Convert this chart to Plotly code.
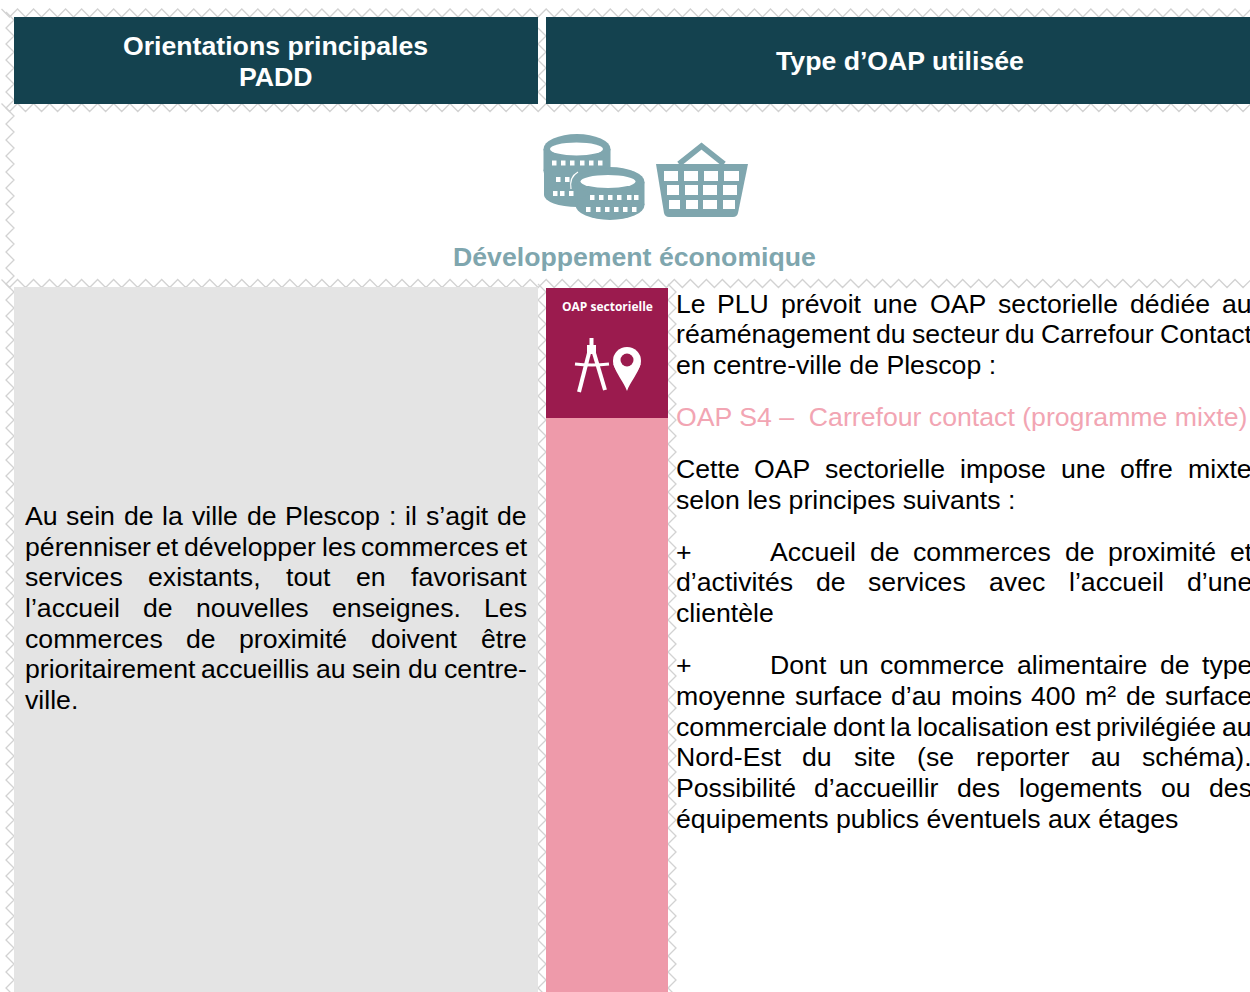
import unicodedata
import plotly.graph_objects as go

W, H = 1250, 992
HEADER_LEFT = ["Orientations principales", "PADD"]
HEADER_RIGHT = "Type d’OAP utilisée"
THEME_TITLE = "Développement économique"
BADGE_LABEL = "OAP sectorielle"

LEFT_LINES = [
    "Au sein de la ville de Plescop : il s’agit de",
    "pérenniser et développer les commerces et",
    "services existants, tout en favorisant",
    "l’accueil de nouvelles enseignes. Les",
    "commerces de proximité doivent être",
    "prioritairement accueillis au sein du centre-",
    "ville.",
]
INTRO_LINES = [
    "Le PLU prévoit une OAP sectorielle dédiée au",
    "réaménagement du secteur du Carrefour Contact",
    "en centre-ville de Plescop :",
]
PINK_LINE = "OAP S4 –  Carrefour contact (programme mixte)"
MIX_LINES = [
    "Cette OAP sectorielle impose une offre mixte",
    "selon les principes suivants :",
]
BULLET1_LINES = [
    "+\tAccueil de commerces de proximité et",
    "d’activités de services avec l’accueil d’une",
    "clientèle",
]
BULLET2_LINES = [
    "+\tDont un commerce alimentaire de type",
    "moyenne surface d’au moins 400 m² de surface",
    "commerciale dont la localisation est privilégiée au",
    "Nord-Est du site (se reporter au schéma).",
    "Possibilité d’accueillir des logements ou des",
    "équipements publics éventuels aux étages",
]

NAVY, GREY, MAROON, PINK = "#14424f", "#e4e4e4", "#9b1b4e", "#ee9aaa"
TEAL, ZIG, PINKTXT = "#7fa6ae", "#d2d2d2", "#f2a5b3"
FS = 26.67

AFM = dict(zip("abcdefghijklmnopqrstuvwxyz",
    [556,556,500,556,556,278,556,556,222,222,500,222,833,556,556,556,556,333,500,278,556,500,722,500,500,500]))
AFM.update(zip("ABCDEFGHIJKLMNOPQRSTUVWXYZ",
    [667,667,722,722,667,611,778,722,278,500,667,556,833,722,778,667,778,722,667,611,722,667,944,667,667,611]))
AFM.update({c: 556 for c in "0123456789"})
AFM.update({".": 278, ",": 278, ":": 278, "-": 333, "’": 222, "(": 333, ")": 333, "+": 584, "²": 333, " ": 278, "–": 556})


def tw(s):
    base = unicodedata.normalize("NFD", s)
    return sum(AFM.get(c, 0) for c in base) * FS / 1000


anns = []


def put(x, y, s, color="#000", size=FS, bold=False, anchor="left", fam="Liberation Sans"):
    anns.append(dict(x=x, y=y, text=f"<b>{s}</b>" if bold else s, showarrow=False, xanchor=anchor, yanchor="middle",
                     xref="x", yref="y", borderpad=0, borderwidth=0,
                     font=dict(family=fam, size=size, color=color)))


def justified(line, x0, x1, y, last=False):
    if "\t" in line:
        head, line = line.split("\t")
        put(x0, y, head)
        x0 = x0 + 94.5
    words = line.split(" ")
    if last or len(words) == 1:
        put(x0, y, line)
        return
    gap = (x1 - x0 - sum(tw(w) for w in words)) / (len(words) - 1)
    x = x0
    for w in words:
        put(x, y, w)
        x += tw(w) + gap


for line, y in zip(LEFT_LINES, [516, 547, 577, 608, 639, 669, 700]):
    justified(line, 24.5, 527, y, last=line == LEFT_LINES[-1])
RX0, RX1 = 675.5, 1252
for line, y in zip(INTRO_LINES, [304, 334, 365]):
    justified(line, RX0, RX1, y, last=line == INTRO_LINES[-1])
put(RX0, 417, PINK_LINE.replace("  ", "\u00a0 "), color=PINKTXT)
for line, y in zip(MIX_LINES, [469, 500]):
    justified(line, RX0, RX1, y, last=line == MIX_LINES[-1])
for line, y in zip(BULLET1_LINES, [552, 582, 613]):
    justified(line, RX0, RX1, y, last=line == BULLET1_LINES[-1])
for line, y in zip(BULLET2_LINES, [665, 696, 727, 757, 788, 819]):
    justified(line, RX0, RX1, y, last=line == BULLET2_LINES[-1])

put(275.5, 46, HEADER_LEFT[0], color="#fff", bold=True, anchor="center")
put(275.5, 77, HEADER_LEFT[1], color="#fff", bold=True, anchor="center")
put(899.5, 61, HEADER_RIGHT, color="#fff", bold=True, anchor="center")
put(634, 257, THEME_TITLE, color=TEAL, bold=True, anchor="center")
put(607.5, 306, BADGE_LABEL, color="#fff", size=12, bold=True, anchor="center", fam="Open Sans")

shapes = []


def rect(x0, y0, x1, y1, c, layer="above"):
    shapes.append(dict(type="rect", x0=x0, y0=y0, x1=x1, y1=y1, fillcolor=c, line_width=0, layer=layer))


def ell(cx, cy, rx, ry, c):
    shapes.append(dict(type="circle", x0=cx - rx, x1=cx + rx, y0=cy - ry, y1=cy + ry, fillcolor=c, line_width=0, layer="above"))


def path(d, fill=None, line=None, lw=0):
    shapes.append(dict(type="path", path=d, fillcolor=fill or "rgba(0,0,0,0)",
                       line=dict(color=line or "rgba(0,0,0,0)", width=lw), layer="above"))


# panels
rect(14, 17, 538, 104, NAVY)
rect(546, 17, 1250, 104, NAVY)
rect(14, 287, 538, 992, GREY)
rect(546, 288, 668, 418, MAROON)
rect(546, 418, 668, 992, PINK)


def coin(cx, top, rx, ry, h):
    rect(cx - rx, top + ry, cx + rx, top + ry + h, TEAL)
    ell(cx, top + ry, rx, ry, TEAL)
    ell(cx, top + ry + h, rx, ry, TEAL)


# lower-left coin, upper coin, front coin (with a white halo between)
coin(577, 160, 33, 12, 23)
coin(577, 134, 33.5, 15, 22)
coin(610, 167, 34.5, 15, 23)
coin(610.5, 168, 33, 14, 23)
ell(576.5, 149, 26.5, 6.5, "#fff")
ell(608, 181.5, 27.5, 6.5, "#fff")
path("M 571 189 Q 569 177 578 172", line="#fff", lw=1.2)
for ty, xs in [(160.5, [552, 561, 570, 580, 589, 598]), (177, [556, 565]), (191, [553, 560, 569]),
               (195, [590, 599, 608, 617, 627, 634]), (207, [586, 596, 605, 614, 623, 632])]:
    for tx in xs:
        rect(tx, ty, tx + 4.5, ty + 5, "#fff")

# basket
path("M 679 164 L 701.5 146 L 724 164", line=TEAL, lw=5.5)
path("M 656 164 L 748 164 L 738 213 Q 737 217 733 217 L 669 217 Q 665 217 664 213 Z", fill=TEAL)
for (y0, y1, xs) in [(171, 181, [(664, 678), (684, 698), (704, 718), (724, 739)]),
                     (185, 195, [(667, 679), (685, 698), (703, 717), (723, 737)]),
                     (200, 209, [(669, 680), (686, 698), (703, 717), (723, 735)])]:
    for a, b in xs:
        rect(a, y0, b, y1, "#fff")

# compass
rect(587, 345, 596, 354, "#fff")
rect(589.5, 338, 593.5, 347, "#fff")
path("M 589 353 L 579 392", line="#fff", lw=4)
path("M 594 353 L 605 390", line="#fff", lw=4)
path("M 575 364 Q 592 366 609 364", line="#fff", lw=3)
# pin: head disc + tapered tail
ell(627, 361, 14, 14, "#fff")
path("M 613.5 364 C 616 374 624 382 627 391 C 630 382 638 374 640.5 364 Z", fill="#fff")
ell(627, 360, 6.5, 6.5, MAROON)


def zig_h(y_top, x0=1.5, x1=1266):
    xs, ys = [], []
    x = x0
    while x <= x1:
        xs += [x, x + 8.01]
        ys += [y_top, y_top + 8]
        x += 16.02
    return xs, ys


def zig_v(x_left, y0, y1):
    xs, ys = [], []
    y = y0
    while y <= y1:
        xs += [x_left, x_left + 8]
        ys += [y, y + 8]
        y += 16
    return xs, ys


traces = [zig_h(9), zig_h(103.5), zig_h(279.5),
          zig_v(6, 12, 1000), zig_v(538, 28, 100), zig_v(538, 284, 1000), zig_v(668, 284, 1000)]
fig = go.Figure()
for xs, ys in traces:
    fig.add_trace(go.Scatter(x=xs, y=ys, mode="lines", line=dict(color=ZIG, width=1.3), hoverinfo="skip", showlegend=False))

fig.update_layout(
    width=W, height=H, margin=dict(l=0, r=0, t=0, b=0), paper_bgcolor="#fff", plot_bgcolor="#fff",
    xaxis=dict(range=[0, W], visible=False, fixedrange=True),
    yaxis=dict(range=[H, 0], visible=False, fixedrange=True),
    shapes=shapes, annotations=anns,
)
fig.write_html("out.html", config={"displayModeBar": False},
               post_script="document.body.style.margin='0';document.body.style.overflow='hidden';")
